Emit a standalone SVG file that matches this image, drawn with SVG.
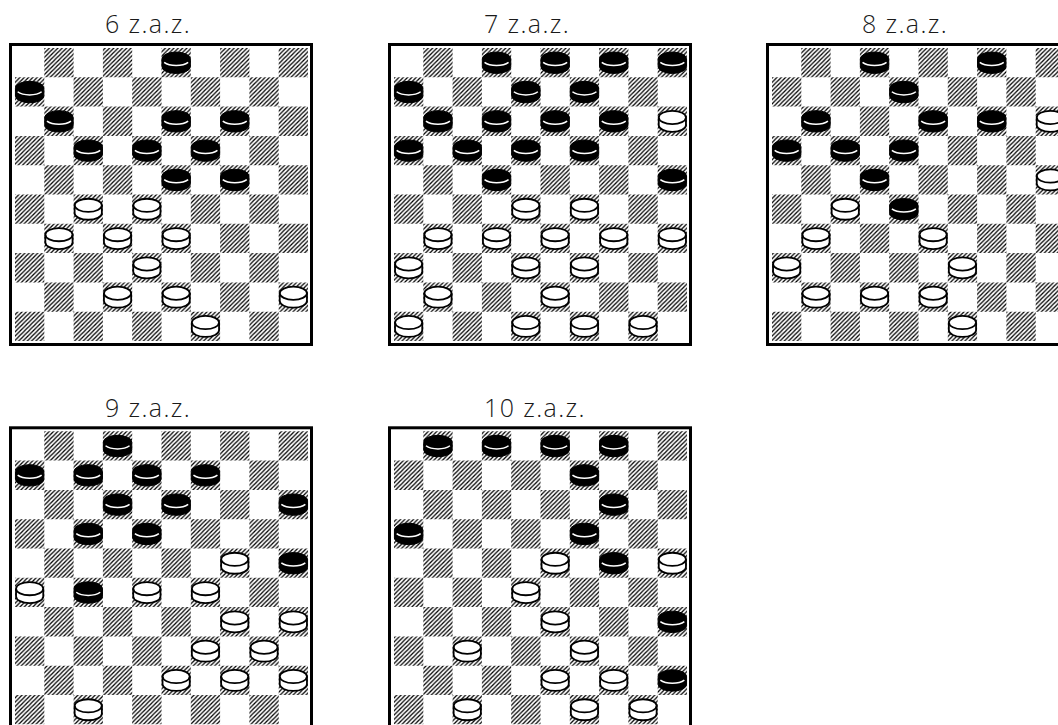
<svg xmlns="http://www.w3.org/2000/svg" xmlns:xlink="http://www.w3.org/1999/xlink" width="1058" height="725" viewBox="0 0 1058 725">
<style>
.title{font-family:"Open Sans","Liberation Sans",sans-serif;font-weight:300;font-size:25px;letter-spacing:1.4px;fill:#1a1a1a}
.frame{fill:#fff;stroke:#000;stroke-width:3}
.dark{fill:url(#hatch)}
</style>
<defs>
<pattern id="hatch" patternUnits="userSpaceOnUse" width="4.3" height="4.3">
<path d="M-1,1 L1,-1 M0,4.3 L4.3,0 M3.3,5.3 L5.3,3.3" stroke="#000" stroke-width="1.25"/>
</pattern>
<g id="grid">
<rect class="frame" x="-4.5" y="-3.5" width="301" height="300"/>
<path class="dark" d="M29.3 0h29.3v29.3h-29.3zM87.9 0h29.3v29.3h-29.3zM146.5 0h29.3v29.3h-29.3zM205.1 0h29.3v29.3h-29.3zM263.7 0h29.3v29.3h-29.3z
M29.3 58.6h29.3v29.3h-29.3zM87.9 58.6h29.3v29.3h-29.3zM146.5 58.6h29.3v29.3h-29.3zM205.1 58.6h29.3v29.3h-29.3zM263.7 58.6h29.3v29.3h-29.3z
M29.3 117.2h29.3v29.3h-29.3zM87.9 117.2h29.3v29.3h-29.3zM146.5 117.2h29.3v29.3h-29.3zM205.1 117.2h29.3v29.3h-29.3zM263.7 117.2h29.3v29.3h-29.3z
M29.3 175.8h29.3v29.3h-29.3zM87.9 175.8h29.3v29.3h-29.3zM146.5 175.8h29.3v29.3h-29.3zM205.1 175.8h29.3v29.3h-29.3zM263.7 175.8h29.3v29.3h-29.3z
M29.3 234.4h29.3v29.3h-29.3zM87.9 234.4h29.3v29.3h-29.3zM146.5 234.4h29.3v29.3h-29.3zM205.1 234.4h29.3v29.3h-29.3zM263.7 234.4h29.3v29.3h-29.3z
M0 29.3h29.3v29.3h-29.3zM58.6 29.3h29.3v29.3h-29.3zM117.2 29.3h29.3v29.3h-29.3zM175.8 29.3h29.3v29.3h-29.3zM234.4 29.3h29.3v29.3h-29.3z
M0 87.9h29.3v29.3h-29.3zM58.6 87.9h29.3v29.3h-29.3zM117.2 87.9h29.3v29.3h-29.3zM175.8 87.9h29.3v29.3h-29.3zM234.4 87.9h29.3v29.3h-29.3z
M0 146.5h29.3v29.3h-29.3zM58.6 146.5h29.3v29.3h-29.3zM117.2 146.5h29.3v29.3h-29.3zM175.8 146.5h29.3v29.3h-29.3zM234.4 146.5h29.3v29.3h-29.3z
M0 205.1h29.3v29.3h-29.3zM58.6 205.1h29.3v29.3h-29.3zM117.2 205.1h29.3v29.3h-29.3zM175.8 205.1h29.3v29.3h-29.3zM234.4 205.1h29.3v29.3h-29.3z
M0 263.7h29.3v29.3h-29.3zM58.6 263.7h29.3v29.3h-29.3zM117.2 263.7h29.3v29.3h-29.3zM175.8 263.7h29.3v29.3h-29.3zM234.4 263.7h29.3v29.3h-29.3z"/>
</g>
<g id="b">
<path d="M-14.2,-3.8 A14.2,6.8 0 0 1 14.2,-3.8 V4 A14.2,6.8 0 0 1 -14.2,4 Z" fill="#000" stroke="#000" stroke-width="1"/>
<path d="M-12,-0.2 A14.2,6.8 0 0 0 12,-0.2" fill="none" stroke="#fff" stroke-width="1.5"/>
</g>
<g id="w">
<path d="M-13.6,-3.8 A13.6,6.6 0 0 1 13.6,-3.8 V4 A13.6,6.6 0 0 1 -13.6,4 Z" fill="#fff" stroke="#000" stroke-width="1.8"/>
<path d="M-13.6,-3.8 A13.6,6.6 0 0 0 13.6,-3.8" fill="none" stroke="#000" stroke-width="1.8"/>
</g>
</defs>
<rect width="1058" height="725" fill="#fff"/>

<g id="board-6" transform="translate(15,48)">
<text class="title" x="90" y="-14.7">6 z.a.z.</text>
<use href="#grid"/>
<use href="#b" x="161.15" y="14.65"/>
<use href="#b" x="14.65" y="43.95"/>
<use href="#b" x="43.95" y="73.25"/><use href="#b" x="161.15" y="73.25"/><use href="#b" x="219.75" y="73.25"/>
<use href="#b" x="73.25" y="102.55"/><use href="#b" x="131.85" y="102.55"/><use href="#b" x="190.45" y="102.55"/>
<use href="#b" x="161.15" y="131.85"/><use href="#b" x="219.75" y="131.85"/>
<use href="#w" x="73.25" y="161.15"/><use href="#w" x="131.85" y="161.15"/>
<use href="#w" x="43.95" y="190.45"/><use href="#w" x="102.55" y="190.45"/><use href="#w" x="161.15" y="190.45"/>
<use href="#w" x="131.85" y="219.75"/>
<use href="#w" x="102.55" y="249.05"/><use href="#w" x="161.15" y="249.05"/><use href="#w" x="278.35" y="249.05"/>
<use href="#w" x="190.45" y="278.35"/>
</g>

<g id="board-7" transform="translate(394,48)">
<text class="title" x="90" y="-14.7">7 z.a.z.</text>
<use href="#grid"/>
<use href="#b" x="102.55" y="14.65"/><use href="#b" x="161.15" y="14.65"/><use href="#b" x="219.75" y="14.65"/><use href="#b" x="278.35" y="14.65"/>
<use href="#b" x="14.65" y="43.95"/><use href="#b" x="131.85" y="43.95"/><use href="#b" x="190.45" y="43.95"/>
<use href="#b" x="43.95" y="73.25"/><use href="#b" x="102.55" y="73.25"/><use href="#b" x="161.15" y="73.25"/><use href="#b" x="219.75" y="73.25"/><use href="#w" x="278.35" y="73.25"/>
<use href="#b" x="14.65" y="102.55"/><use href="#b" x="73.25" y="102.55"/><use href="#b" x="131.85" y="102.55"/><use href="#b" x="190.45" y="102.55"/>
<use href="#b" x="102.55" y="131.85"/><use href="#b" x="278.35" y="131.85"/>
<use href="#w" x="131.85" y="161.15"/><use href="#w" x="190.45" y="161.15"/>
<use href="#w" x="43.95" y="190.45"/><use href="#w" x="102.55" y="190.45"/><use href="#w" x="161.15" y="190.45"/><use href="#w" x="219.75" y="190.45"/><use href="#w" x="278.35" y="190.45"/>
<use href="#w" x="14.65" y="219.75"/><use href="#w" x="131.85" y="219.75"/><use href="#w" x="190.45" y="219.75"/>
<use href="#w" x="43.95" y="249.05"/><use href="#w" x="161.15" y="249.05"/>
<use href="#w" x="14.65" y="278.35"/><use href="#w" x="131.85" y="278.35"/><use href="#w" x="190.45" y="278.35"/><use href="#w" x="249.05" y="278.35"/>
</g>

<g id="board-8" transform="translate(772,48)">
<text class="title" x="90" y="-14.7">8 z.a.z.</text>
<use href="#grid"/>
<use href="#b" x="102.55" y="14.65"/><use href="#b" x="219.75" y="14.65"/>
<use href="#b" x="131.85" y="43.95"/>
<use href="#b" x="43.95" y="73.25"/><use href="#b" x="161.15" y="73.25"/><use href="#b" x="219.75" y="73.25"/><use href="#w" x="278.35" y="73.25"/>
<use href="#b" x="14.65" y="102.55"/><use href="#b" x="73.25" y="102.55"/><use href="#b" x="131.85" y="102.55"/>
<use href="#b" x="102.55" y="131.85"/><use href="#w" x="278.35" y="131.85"/>
<use href="#w" x="73.25" y="161.15"/><use href="#b" x="131.85" y="161.15"/>
<use href="#w" x="43.95" y="190.45"/><use href="#w" x="161.15" y="190.45"/>
<use href="#w" x="14.65" y="219.75"/><use href="#w" x="190.45" y="219.75"/>
<use href="#w" x="43.95" y="249.05"/><use href="#w" x="102.55" y="249.05"/><use href="#w" x="161.15" y="249.05"/>
<use href="#w" x="190.45" y="278.35"/>
</g>

<g id="board-9" transform="translate(15,431.3)">
<text class="title" x="90" y="-14.7">9 z.a.z.</text>
<use href="#grid"/>
<use href="#b" x="102.55" y="14.65"/>
<use href="#b" x="14.65" y="43.95"/><use href="#b" x="73.25" y="43.95"/><use href="#b" x="131.85" y="43.95"/><use href="#b" x="190.45" y="43.95"/>
<use href="#b" x="102.55" y="73.25"/><use href="#b" x="161.15" y="73.25"/><use href="#b" x="278.35" y="73.25"/>
<use href="#b" x="73.25" y="102.55"/><use href="#b" x="131.85" y="102.55"/>
<use href="#w" x="219.75" y="131.85"/><use href="#b" x="278.35" y="131.85"/>
<use href="#w" x="14.65" y="161.15"/><use href="#b" x="73.25" y="161.15"/><use href="#w" x="131.85" y="161.15"/><use href="#w" x="190.45" y="161.15"/>
<use href="#w" x="219.75" y="190.45"/><use href="#w" x="278.35" y="190.45"/>
<use href="#w" x="190.45" y="219.75"/><use href="#w" x="249.05" y="219.75"/>
<use href="#w" x="161.15" y="249.05"/><use href="#w" x="219.75" y="249.05"/><use href="#w" x="278.35" y="249.05"/>
<use href="#w" x="73.25" y="278.35"/>
</g>

<g id="board-10" transform="translate(394,431.3)">
<text class="title" x="90" y="-14.7">10 z.a.z.</text>
<use href="#grid"/>
<use href="#b" x="43.95" y="14.65"/><use href="#b" x="102.55" y="14.65"/><use href="#b" x="161.15" y="14.65"/><use href="#b" x="219.75" y="14.65"/>
<use href="#b" x="190.45" y="43.95"/>
<use href="#b" x="219.75" y="73.25"/>
<use href="#b" x="14.65" y="102.55"/><use href="#b" x="190.45" y="102.55"/>
<use href="#w" x="161.15" y="131.85"/><use href="#b" x="219.75" y="131.85"/><use href="#w" x="278.35" y="131.85"/>
<use href="#w" x="131.85" y="161.15"/>
<use href="#w" x="161.15" y="190.45"/><use href="#b" x="278.35" y="190.45"/>
<use href="#w" x="73.25" y="219.75"/><use href="#w" x="190.45" y="219.75"/>
<use href="#w" x="161.15" y="249.05"/><use href="#w" x="219.75" y="249.05"/><use href="#b" x="278.35" y="249.05"/>
<use href="#w" x="73.25" y="278.35"/><use href="#w" x="190.45" y="278.35"/><use href="#w" x="249.05" y="278.35"/>
</g>
</svg>
